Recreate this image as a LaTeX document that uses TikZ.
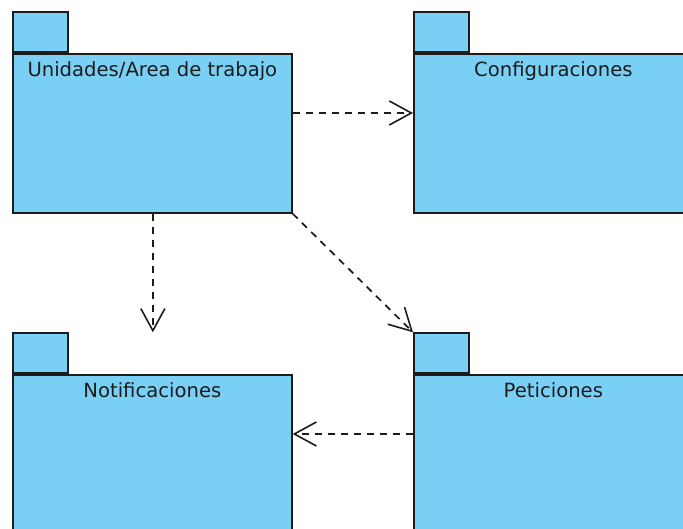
\documentclass[tikz,border=0pt]{standalone}
\usepackage{fontspec}
\setmainfont{DejaVu Sans}
\usetikzlibrary{arrows.meta,calc}
\definecolor{pkgfill}{RGB}{122,207,245}
\definecolor{pkgline}{RGB}{28,28,28}
\begin{document}
\begin{tikzpicture}[x=1pt,y=-1pt,
  pkgbody/.style={draw=pkgline, fill=pkgfill, line width=1.7pt, minimum width=279pt, minimum height=159pt, inner sep=0pt, anchor=north west},
  pkgtab/.style={draw=pkgline, fill=pkgfill, line width=1.7pt, minimum width=55pt, minimum height=40pt, inner sep=0pt, anchor=south west},
  pkglabel/.style={font=\fontsize{19.6}{22}\selectfont, text=pkgline, anchor=base, inner sep=0pt},
  dep/.style={draw=pkgline, line width=1.7pt, dash pattern=on 7pt off 6pt, -{Straight Barb[length=22pt,width=24pt,line width=1.6pt]}}]
\useasboundingbox (0,0) rectangle (683,529);
\clip (0,0) rectangle (683,529);
% Unidades/Area de trabajo
\node[pkgtab] (ut) at (12,53) {};
\node[pkgbody] (u) at (12,53) {};
\node[pkglabel] (ul) at ($(u.north)+(0,24)$) {Unidades/Area de trabajo};
% Configuraciones
\node[pkgtab] (ct) at (413,53) {};
\node[pkgbody] (c) at (413,53) {};
\node[pkglabel] (cl) at ($(c.north)+(0,24)$) {Configuraciones};
% Notificaciones
\node[pkgtab] (nt) at (12,374) {};
\node[pkgbody] (n) at (12,374) {};
\node[pkglabel] (nl) at ($(n.north)+(0,24)$) {Notificaciones};
% Peticiones
\node[pkgtab] (pt) at (413,374) {};
\node[pkgbody] (p) at (413,374) {};
\node[pkglabel] (pl) at ($(p.north)+(0,24)$) {Peticiones};
% dependencies
\coordinate (vtop) at ($(u.south)+(0.5,0)$);
\draw[dep] ($(u.north east)+(0,60)$) -- ($(c.north west)+(0,60)$);
\draw[dep] (vtop) -- (vtop |- nt.north);
\draw[dep] (u.south east) -- (pt.north west);
\draw[dep] ($(p.north west)+(0,60)$) -- ($(n.north east)+(0,60)$);
\end{tikzpicture}
\end{document}
